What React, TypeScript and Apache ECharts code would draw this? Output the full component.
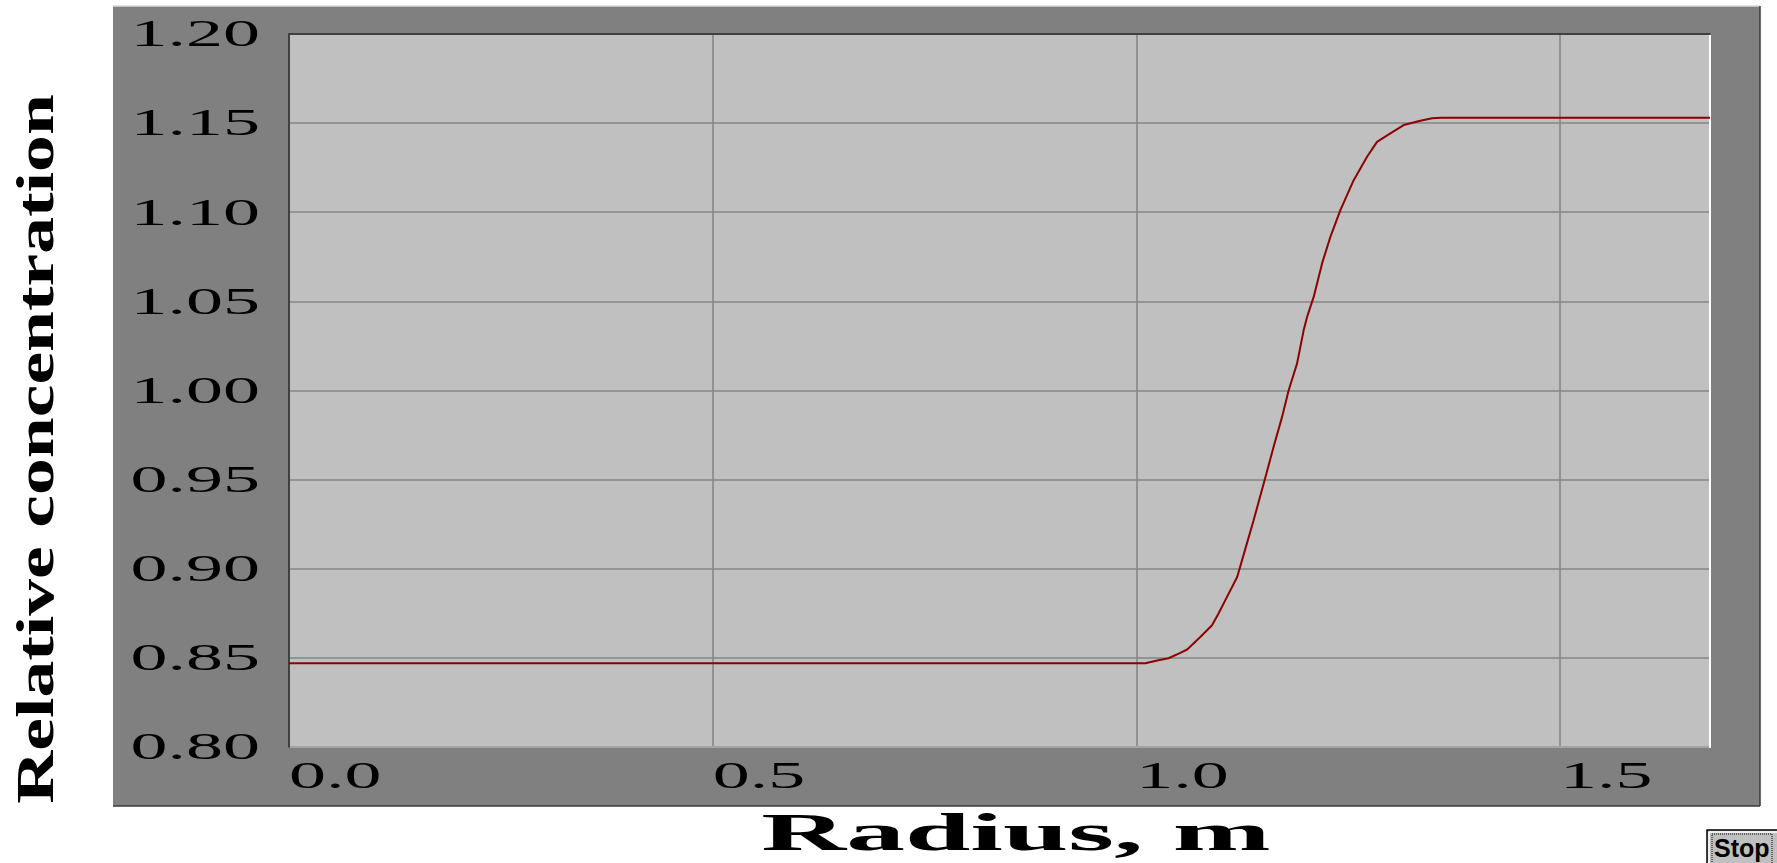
import React, { useEffect, useRef } from 'react';
import * as echarts from 'echarts';

// Radius (m) and relative concentration
const radius = [
  0.0, 1.0, 1.0106, 1.026, 1.038, 1.05, 1.06, 1.0755, 1.0893, 1.097, 1.107, 1.119,
  1.1287, 1.1384, 1.1503, 1.162, 1.172, 1.1797, 1.1897, 1.1975, 1.2015, 1.2093,
  1.2192, 1.229, 1.2408, 1.2565, 1.2723, 1.284, 1.2998, 1.3155, 1.3352, 1.349, 1.36, 1.677,
];
const concentration = [
  0.847, 0.847, 0.847, 0.8487, 0.8498, 0.8524, 0.8547, 0.8617, 0.8683, 0.8749, 0.8842, 0.8954,
  0.9113, 0.9272, 0.9478, 0.9684, 0.9852, 1.0, 1.0152, 1.0339, 1.0413, 1.0525,
  1.0713, 1.0862, 1.1012, 1.118, 1.1311, 1.1395, 1.1442, 1.1489, 1.1513, 1.1527, 1.153, 1.153,
];

const xTicks = [0, 0.5, 1.0, 1.5];
const xTickLabels = ['0.0', '0.5', '1.0', '1.5'];
const yTicks = [0.8, 0.85, 0.9, 0.95, 1.0, 1.05, 1.1, 1.15, 1.2];
const yTickLabels = ['0.80', '0.85', '0.90', '0.95', '1.00', '1.05', '1.10', '1.15', '1.20'];
const xTitle = 'Radius, m';
const yTitle = 'Relative concentration';
const stopLabel = 'Stop';

const X_MIN = 0;
const X_MAX = 1.677;
const Y_MIN = 0.8;
const Y_MAX = 1.2;

export default function App() {
  const ref = useRef<HTMLDivElement>(null);

  useEffect(() => {
    if (!ref.current) return;
    const chart = echarts.init(ref.current, null, { renderer: 'svg', width: 1777, height: 863 });

    const gridLine = () => ({ show: true, lineStyle: { color: '#868686', width: 1.6 } });

    chart.setOption({
      animation: false,
      backgroundColor: '#ffffff',
      grid: {
        left: 289,
        top: 34,
        width: 1421,
        height: 713,
        show: true,
        backgroundColor: '#c0c0c0',
        borderWidth: 0,
      },
      xAxis: [
        {
          type: 'value',
          min: X_MIN,
          max: X_MAX,
          interval: 0.5,
          position: 'bottom',
          z: 2,
          axisLine: { show: true, onZero: false, lineStyle: { color: '#ffffff', width: 2 } },
          axisTick: { show: false },
          axisLabel: { show: false },
          splitLine: gridLine(),
        },
        {
          type: 'value',
          min: X_MIN,
          max: X_MAX,
          interval: 0.5,
          position: 'top',
          z: 3,
          axisLine: { show: true, onZero: false, lineStyle: { color: '#404040', width: 2 } },
          axisTick: { show: false },
          axisLabel: { show: false },
          splitLine: { show: false },
        },
      ],
      yAxis: [
        {
          type: 'value',
          min: Y_MIN,
          max: Y_MAX,
          interval: 0.05,
          position: 'left',
          z: 3,
          axisLine: { show: true, onZero: false, lineStyle: { color: '#404040', width: 2 } },
          axisTick: { show: false },
          axisLabel: { show: false },
          splitLine: gridLine(),
        },
        {
          type: 'value',
          min: Y_MIN,
          max: Y_MAX,
          interval: 0.05,
          position: 'right',
          z: 3,
          axisLine: { show: true, onZero: false, lineStyle: { color: '#ffffff', width: 2 } },
          axisTick: { show: false },
          axisLabel: { show: false },
          splitLine: { show: false },
        },
      ],
      series: [
        {
          type: 'line',
          xAxisIndex: 0,
          yAxisIndex: 0,
          data: radius.map((r, i) => [r, concentration[i]]),
          showSymbol: false,
          symbol: 'none',
          smooth: false,
          lineStyle: { color: '#8b0000', width: 2 },
          z: 5,
        },
      ],
    });

    const labelFont = { fontFamily: '"Liberation Serif", "Times New Roman", serif', fontSize: 37, fontWeight: 'normal' };
    const elements: any[] = [];

    // outer gray panel (raised look)
    elements.push({ type: 'rect', z: -10, shape: { x: 113, y: 6, width: 1647, height: 800 }, style: { fill: '#808080' } });
    elements.push({ type: 'line', z: -9, shape: { x1: 113, y1: 6, x2: 1760, y2: 6 }, style: { stroke: '#d8d8d8', lineWidth: 1.5 } });
    elements.push({ type: 'line', z: -9, shape: { x1: 1760, y1: 6, x2: 1760, y2: 806 }, style: { stroke: '#3a3a3a', lineWidth: 1.5 } });
    elements.push({ type: 'line', z: -9, shape: { x1: 113, y1: 806, x2: 1760, y2: 806 }, style: { stroke: '#3a3a3a', lineWidth: 1.5 } });

    yTicks.forEach((v, i) => {
      const p = chart.convertToPixel({ seriesIndex: 0 }, [X_MIN, v]) as number[];
      elements.push({
        type: 'text',
        z: 10,
        x: p[0] - 29,
        y: p[1],
        scaleX: 2.0,
        style: {
          text: yTickLabels[i],
          fill: '#000000',
          ...labelFont,
          align: 'right',
          verticalAlign: 'middle',
        },
      });
    });

    xTicks.forEach((v, i) => {
      const p = chart.convertToPixel({ seriesIndex: 0 }, [v, Y_MIN]) as number[];
      elements.push({
        type: 'text',
        z: 10,
        x: p[0],
        y: p[1] + 29,
        scaleX: 2.0,
        style: {
          text: xTickLabels[i],
          fill: '#000000',
          ...labelFont,
          align: 'left',
          verticalAlign: 'middle',
        },
      });
    });

    // axis titles
    elements.push({
      type: 'text',
      z: 10,
      x: 1016,
      y: 833,
      scaleX: 2.26,
      style: {
        text: xTitle,
        fill: '#000000',
        fontFamily: '"Liberation Serif", "Times New Roman", serif',
        fontSize: 52,
        fontWeight: 'bold',
        align: 'center',
        verticalAlign: 'middle',
      },
    });
    elements.push({
      type: 'text',
      z: 10,
      x: 35,
      y: 449,
      rotation: Math.PI / 2,
      scaleX: 1.39,
      style: {
        text: yTitle,
        fill: '#000000',
        fontFamily: '"Liberation Serif", "Times New Roman", serif',
        fontSize: 53,
        fontWeight: 'bold',
        align: 'center',
        verticalAlign: 'middle',
      },
    });

    // Stop button (clipped at page corner)
    elements.push({ type: 'rect', z: 10, shape: { x: 1707, y: 830, width: 80, height: 40 }, style: { fill: '#c0c0c0', stroke: '#000000', lineWidth: 1.5 } });
    elements.push({ type: 'line', z: 11, shape: { x1: 1709, y1: 832, x2: 1777, y2: 832 }, style: { stroke: '#ffffff', lineWidth: 1.5 } });
    elements.push({ type: 'line', z: 11, shape: { x1: 1709, y1: 832, x2: 1709, y2: 863 }, style: { stroke: '#ffffff', lineWidth: 1.5 } });
    elements.push({ type: 'rect', z: 11, shape: { x: 1712, y: 834, width: 60, height: 40 }, style: { fill: 'none', stroke: '#000000', lineWidth: 1, lineDash: [1, 1] } });
    elements.push({
      type: 'text',
      z: 12,
      x: 1714,
      y: 848,
      style: {
        text: stopLabel,
        fill: '#000000',
        fontFamily: '"Liberation Sans", Arial, sans-serif',
        fontSize: 25,
        fontWeight: 'bold',
        align: 'left',
        verticalAlign: 'middle',
      },
    });

    chart.setOption({ graphic: { elements } });

    return () => {
      chart.dispose();
    };
  }, []);

  return <div ref={ref} style={{ position: 'fixed', left: 0, top: 0, width: 1777, height: 863 }} />;
}
